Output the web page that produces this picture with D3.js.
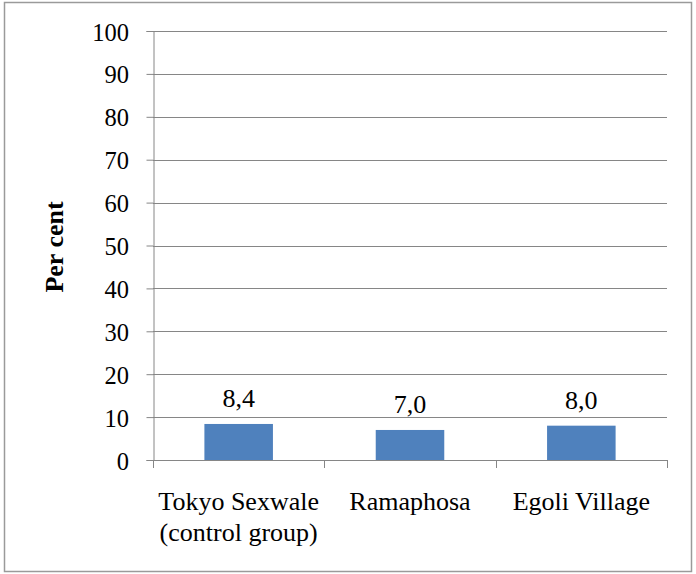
<!DOCTYPE html>
<html><head><meta charset="utf-8">
<script src="https://cdn.jsdelivr.net/npm/d3@7"></script>
</head>
<body style="margin:0">
<svg id="chart" width="696" height="574"></svg>
<script>
// Share of respondents per area (per cent)
const categories = [["Tokyo Sexwale", "(control group)"], ["Ramaphosa"], ["Egoli Village"]];
const values = [8.4, 7.0, 8.0];
const valueLabels = ["8,4", "7,0", "8,0"];
const yTicks = [0, 10, 20, 30, 40, 50, 60, 70, 80, 90, 100];

const svg = d3.select("#chart");
const plot = { left: 153, right: 667, top: 31, bottom: 460 };
const axisColor = "#868686";
const barColor = "#4f81bd";

const label = (g, xPos, yPos, size) => g.append("text")
  .attr("x", xPos).attr("y", yPos)
  .attr("font-family", "Liberation Serif")
  .attr("font-size", size)
  .attr("fill", "#000");

// outer frame
svg.append("rect")
  .attr("x", 4.5).attr("y", 2.5)
  .attr("width", 687).attr("height", 569)
  .attr("fill", "none").attr("stroke", "#9a9a9a").attr("stroke-width", 1.5);

const x = d3.scaleBand()
  .domain(d3.range(categories.length))
  .range([plot.left, plot.right])
  .padding(0);

const y = d3.scaleLinear().domain([0, 100]).range([plot.bottom, plot.top]);

// gridlines
yTicks.filter(d => d > 0).forEach(t => {
  svg.append("line")
    .attr("x1", plot.left).attr("x2", plot.right)
    .attr("y1", Math.round(y(t)) + 0.5).attr("y2", Math.round(y(t)) + 0.5)
    .attr("stroke", axisColor);
});

// y axis line and ticks (labels set separately in the serif face)
const yAxis = svg.append("g")
  .attr("transform", `translate(${plot.left + 0.5},0)`)
  .call(d3.axisLeft(y).tickValues(yTicks).tickSize(7).tickFormat(""));
yAxis.select(".domain").attr("stroke", axisColor);
yAxis.selectAll(".tick line").attr("stroke", axisColor);
yTicks.forEach(t => {
  label(svg, plot.left - 24, y(t) + 9.5, 24.5).attr("text-anchor", "end").text(d3.format("d")(t));
});

// bars
const barW = x.bandwidth() * 0.4;
values.forEach((v, i) => {
  svg.append("rect")
    .attr("x", x(i) + (x.bandwidth() - barW) / 2)
    .attr("y", y(v))
    .attr("width", barW)
    .attr("height", y(0) - y(v))
    .attr("fill", barColor);
});

// x axis baseline and category ticks
svg.append("line")
  .attr("x1", plot.left).attr("x2", plot.right)
  .attr("y1", plot.bottom + 0.5).attr("y2", plot.bottom + 0.5)
  .attr("stroke", axisColor);
d3.range(categories.length + 1).forEach(i => {
  const bx = i < categories.length ? x(i) : x(categories.length - 1) + x.bandwidth();
  svg.append("line")
    .attr("x1", Math.round(bx) + 0.5).attr("x2", Math.round(bx) + 0.5)
    .attr("y1", plot.bottom).attr("y2", plot.bottom + 8)
    .attr("stroke", axisColor);
});

// category labels
categories.forEach((lines, i) => {
  lines.forEach((ln, j) => {
    label(svg, x(i) + x.bandwidth() / 2, 510 + j * 31, 26)
      .attr("text-anchor", "middle").text(ln);
  });
});

// value labels
values.forEach((v, i) => {
  label(svg, x(i) + x.bandwidth() / 2, y(v) - 17, 26)
    .attr("text-anchor", "middle").text(valueLabels[i]);
});

// y axis title
label(svg, 0, 0, 26)
  .attr("transform", `translate(63,${(plot.top + plot.bottom) / 2 + 1.5}) rotate(-90)`)
  .attr("text-anchor", "middle")
  .attr("font-weight", "bold")
  .text("Per cent");
</script>
</body></html>
